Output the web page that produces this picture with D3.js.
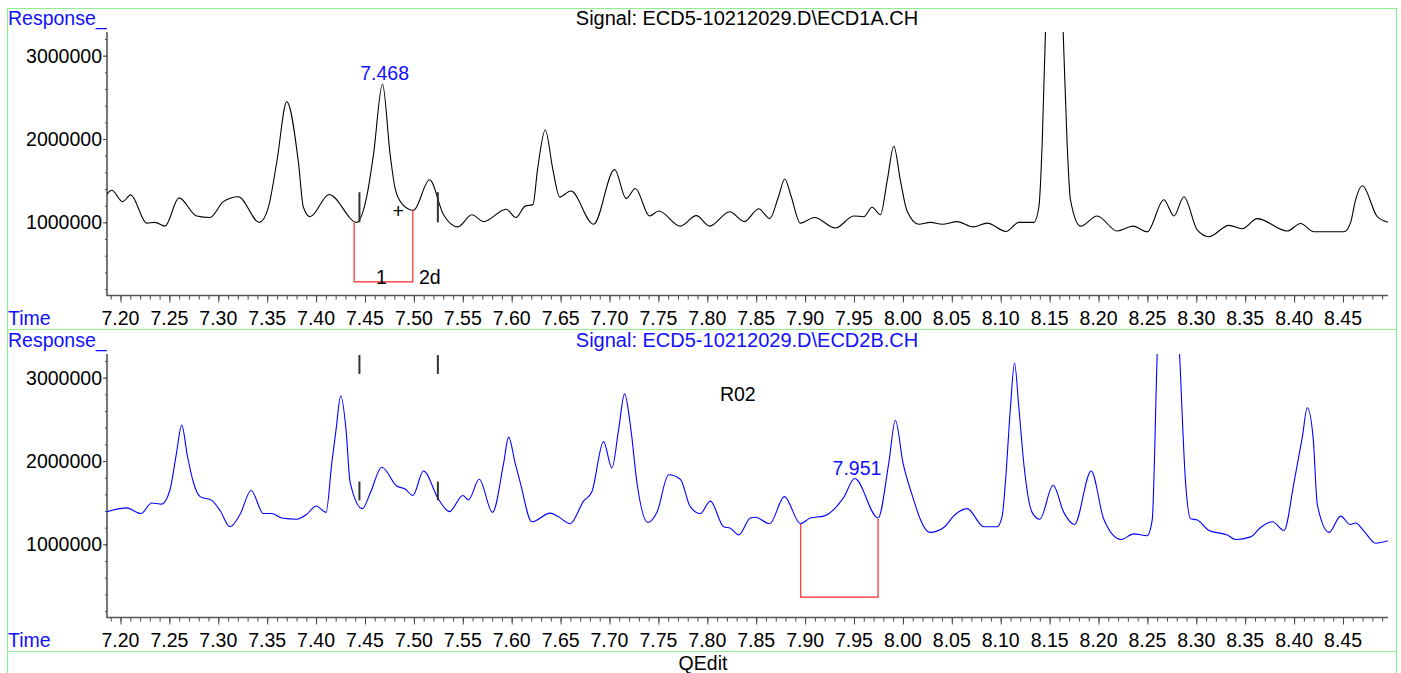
<!DOCTYPE html>
<html lang="en">
<head>
<meta charset="utf-8">
<title>ECD chromatogram</title>
<script src="https://d3js.org/d3.v7.min.js"></script>
<style>
  body { margin: 0; background: #fff; }
  text { font-family: "Liberation Sans", Arial, sans-serif; }
  .frame { stroke: #90ee90; stroke-width: 1.2; fill: none; }
</style>
</head>
<body>
<div id="chart"></div>
<script>
// retention time (min) and response for the two detector channels
const topTime = [7.1862, 7.1910, 7.2022, 7.2104, 7.2268, 7.2353, 7.2455, 7.2598, 7.2779, 7.2915,
  7.3052, 7.3205, 7.3420, 7.3512, 7.3598, 7.3700, 7.3819, 7.3870, 7.3939, 7.4133,
  7.4416, 7.4519, 7.4587, 7.4679, 7.4757, 7.4808, 7.4877, 7.4996, 7.5160, 7.5303,
  7.5449, 7.5593, 7.5712, 7.5944, 7.6043, 7.6138, 7.6217, 7.6264, 7.6343, 7.6421,
  7.6490, 7.6605, 7.6837, 7.7052, 7.7171, 7.7264, 7.7410, 7.7503, 7.7724, 7.7888,
  7.8024, 7.8229, 7.8379, 7.8526, 7.8638, 7.8730, 7.8792, 7.8856, 7.8952, 7.9095,
  7.9310, 7.9497, 7.9600, 7.9685, 7.9770, 7.9839, 7.9907, 7.9975, 8.0043, 8.0162,
  8.0282, 8.0401, 8.0555, 8.0718, 8.0862, 8.1055, 8.1185, 8.1339, 8.1390, 8.1424,
  8.1458, 8.1546, 8.1638, 8.1679, 8.1713, 8.1816, 8.1986, 8.2191, 8.2355, 8.2498,
  8.2668, 8.2771, 8.2873, 8.3009, 8.3129, 8.3333, 8.3470, 8.3623, 8.3930, 8.4066,
  8.4202, 8.4510, 8.4578, 8.4629, 8.4697, 8.4851, 8.4963];
const topResp = [1340000, 1385000, 1249000, 1330000, 991000, 1000000, 955000, 1294000, 1077000, 1059000,
  1249000, 1308000, 1000000, 1181000, 1724000, 2448000, 1724000, 1181000, 1068000, 1335000,
  1000000, 1317000, 1815000, 2661000, 1815000, 1407000, 1226000, 1145000, 1511000, 1091000,
  946000, 1091000, 1009000, 1158000, 1059000, 1195000, 1213000, 1633000, 2109000, 1633000,
  1305000, 1376000, 977000, 1634000, 1285000, 1407000, 1077000, 1136000, 955000, 1081000,
  955000, 1127000, 1009000, 1163000, 1045000, 1317000, 1520000, 1317000, 991000, 1059000,
  932000, 1077000, 1068000, 1181000, 1091000, 1498000, 1914000, 1498000, 1136000, 977000,
  1000000, 977000, 1009000, 946000, 991000, 890000, 1000000, 1000000, 1181000, 1950000,
  3308000, 5500000, 3308000, 1950000, 1272000, 955000, 1077000, 896000, 955000, 887000,
  1272000, 1077000, 1308000, 910000, 828000, 964000, 923000, 1045000, 896000, 986000,
  887000, 887000, 1000000, 1272000, 1439000, 1068000, 1000000];

const botTime = [7.1862, 7.2063, 7.2210, 7.2319, 7.2421, 7.2506, 7.2568, 7.2626, 7.2684, 7.2745,
  7.2813, 7.2933, 7.3018, 7.3120, 7.3223, 7.3335, 7.3461, 7.3546, 7.3649, 7.3802,
  7.3905, 7.4000, 7.4102, 7.4160, 7.4204, 7.4252, 7.4306, 7.4348, 7.4474, 7.4552,
  7.4672, 7.4825, 7.4910, 7.4989, 7.5098, 7.5251, 7.5364, 7.5500, 7.5558, 7.5668,
  7.5804, 7.5917, 7.5968, 7.6036, 7.6087, 7.6206, 7.6394, 7.6479, 7.6598, 7.6735,
  7.6820, 7.6939, 7.7025, 7.7093, 7.7154, 7.7219, 7.7280, 7.7393, 7.7485, 7.7605,
  7.7724, 7.7826, 7.7928, 7.8031, 7.8167, 7.8236, 7.8321, 7.8440, 7.8491, 7.8638,
  7.8788, 7.8952, 7.9054, 7.9190, 7.9395, 7.9507, 7.9746, 7.9855, 7.9923, 8.0002,
  8.0077, 8.0275, 8.0418, 8.0537, 8.0657, 8.0827, 8.0964, 8.1015, 8.1048, 8.1100,
  8.1141, 8.1185, 8.1236, 8.1321, 8.1400, 8.1536, 8.1645, 8.1754, 8.1925, 8.2054,
  8.2232, 8.2361, 8.2498, 8.2549, 8.2600, 8.2713, 8.2829, 8.2890, 8.2941, 8.3010,
  8.3129, 8.3317, 8.3402, 8.3556, 8.3658, 8.3777, 8.3897, 8.3999, 8.4084, 8.4135,
  8.4194, 8.4238, 8.4357, 8.4476, 8.4572, 8.4630, 8.4715, 8.4834, 8.4964];
const botResp = [1393000, 1438000, 1370000, 1497000, 1483000, 1655000, 2061000, 2431000, 2061000, 1745000,
  1573000, 1528000, 1406000, 1212000, 1361000, 1646000, 1370000, 1370000, 1316000, 1302000,
  1361000, 1461000, 1384000, 1971000, 2377000, 2783000, 2377000, 1745000, 1429000, 1610000,
  1926000, 1700000, 1664000, 1587000, 1880000, 1542000, 1393000, 1587000, 1533000, 1781000,
  1384000, 1971000, 2287000, 1971000, 1745000, 1271000, 1375000, 1330000, 1248000, 1519000,
  1632000, 2233000, 1917000, 2377000, 2806000, 2377000, 1745000, 1262000, 1384000, 1835000,
  1781000, 1452000, 1370000, 1519000, 1212000, 1194000, 1113000, 1316000, 1325000, 1248000,
  1573000, 1248000, 1316000, 1339000, 1564000, 1790000, 1316000, 1971000, 2490000, 1971000,
  1655000, 1144000, 1203000, 1361000, 1429000, 1212000, 1212000, 1339000, 1745000, 2648000,
  3176000, 2648000, 1971000, 1384000, 1302000, 1709000, 1384000, 1239000, 1880000, 1302000,
  1059000, 1126000, 1104000, 1293000, 3280000, 6000000, 3280000, 1745000, 1307000, 1293000,
  1167000, 1113000, 1059000, 1090000, 1203000, 1271000, 1167000, 1745000, 2287000, 2639000,
  2287000, 1474000, 1144000, 1339000, 1239000, 1257000, 1158000, 1014000, 1045000];

const timeTicks = ["7.20", "7.25", "7.30", "7.35", "7.40", "7.45", "7.50", "7.55", "7.60", "7.65",
  "7.70", "7.75", "7.80", "7.85", "7.90", "7.95", "8.00", "8.05", "8.10", "8.15",
  "8.20", "8.25", "8.30", "8.35", "8.40", "8.45"];
const respTicks = [1000000, 2000000, 3000000];

const signalNames = ["Signal: ECD5-10212029.D\\ECD1A.CH", "Signal: ECD5-10212029.D\\ECD2B.CH"];

// integration marks: [panel, time, response]
const peakLabels = [[0, 7.468, 2661000, "7.468"], [1, 7.951, 1790000, "7.951"]];
const baselineBoxes = [[0, 7.4389, 7.4989, 1000000, 1145000, 285000], [1, 7.8955, 7.9746, 1248000, 1307000, 368000]];
const windowMarks = [[0, 7.4443, 1000000, 1362000], [0, 7.5245, 1000000, 1362000],
  [1, 7.4443, 3045000, 3271000], [1, 7.5245, 3045000, 3271000],
  [1, 7.4443, 1528000, 1754000], [1, 7.5245, 1528000, 1754000]];

const width = 1401, height = 673;
const blue = "#1010ff";
const fontSize = 19.5;

const svg = d3.select("#chart").append("svg")
  .attr("width", width).attr("height", height);

const x = d3.scaleLinear().domain([7.1862, 8.496]).range([107, 1388]);

const panels = [
  {top: 32, bottom: 295.5, color: "#000", titleColor: "#000", t: topTime, v: topResp},
  {top: 354, bottom: 617.5, color: "#0000ff", titleColor: blue, t: botTime, v: botResp}
];

// green frame
svg.append("line").attr("class", "frame").attr("x1", 7.5).attr("x2", 7.5).attr("y1", 8).attr("y2", height);
svg.append("line").attr("class", "frame").attr("x1", 1396.5).attr("x2", 1396.5).attr("y1", 8).attr("y2", height);
[8.5, 329.5, 651.5].forEach(yy => {
  svg.append("line").attr("class", "frame").attr("x1", 7).attr("x2", 1397).attr("y1", yy).attr("y2", yy);
});

panels.forEach((p, i) => {
  const y = d3.scaleLinear().domain([122600, 3284000]).range([p.bottom, p.top]);
  const g = svg.append("g");

  g.append("clipPath").attr("id", "clip" + i)
    .append("rect").attr("x", 107).attr("y", p.top).attr("width", 1281).attr("height", p.bottom - p.top);

  // x axis: minor ticks every 0.01, labels every 0.05
  const minor = d3.range(719, 850).map(d => d / 100);
  const xAxisMinor = d3.axisBottom(x).tickValues(minor).tickSize(4).tickFormat("");
  const xAxisMajor = d3.axisBottom(x).tickValues(timeTicks.map(Number)).tickSize(7).tickFormat("");
  g.append("g").attr("transform", `translate(0,${p.bottom})`).call(xAxisMinor)
    .call(a => a.select(".domain").remove());
  g.append("g").attr("transform", `translate(0,${p.bottom})`).call(xAxisMajor)
    .call(a => a.select(".domain").remove());
  g.selectAll(".tick line").attr("stroke", "#444");
  g.selectAll("text.xt").data(timeTicks).enter().append("text")
    .attr("x", d => x(+d)).attr("y", p.bottom + 29.5)
    .attr("text-anchor", "middle").attr("font-size", fontSize).text(d => d);

  // y axis
  const yMinor = d3.range(200000, 3300000, 200000);
  g.append("g").attr("transform", "translate(107,0)")
    .call(d3.axisLeft(y).tickValues(yMinor).tickSize(2).tickFormat(""))
    .call(a => a.select(".domain").remove())
    .call(a => a.selectAll("line").attr("stroke", "#444"));
  g.append("g").attr("transform", "translate(107,0)")
    .call(d3.axisLeft(y).tickValues(respTicks).tickSize(4).tickFormat(""))
    .call(a => a.select(".domain").remove())
    .call(a => a.selectAll("line").attr("stroke", "#444"));
  g.selectAll("text.yt").data(respTicks).enter().append("text")
    .attr("x", 102).attr("y", d => y(d)).attr("dy", "0.36em")
    .attr("text-anchor", "end").attr("font-size", fontSize).text(d => d);

  // axis lines
  g.append("line").attr("x1", 107).attr("x2", 107).attr("y1", p.top).attr("y2", p.bottom + 0.5)
    .attr("stroke", "#555").attr("stroke-width", 1.6);
  g.append("line").attr("x1", 106.5).attr("x2", 1388).attr("y1", p.bottom).attr("y2", p.bottom)
    .attr("stroke", "#555").attr("stroke-width", 1.6);

  // labels
  g.append("text").attr("x", 8).attr("y", p.top - 7).attr("fill", blue)
    .attr("font-size", fontSize).text("Response_");
  g.append("text").attr("x", 8).attr("y", p.bottom + 29.5).attr("fill", blue)
    .attr("font-size", fontSize).text("Time");
  g.append("text").attr("x", 747).attr("y", p.top - 7).attr("fill", p.titleColor)
    .attr("text-anchor", "middle").attr("font-size", 20).text(signalNames[i]);

  // trace
  const pts = p.t.map((t, k) => [t, p.v[k]]);
  g.append("path").datum(pts)
    .attr("clip-path", `url(#clip${i})`)
    .attr("fill", "none").attr("stroke", p.color).attr("stroke-width", 1.1)
    .attr("d", d3.line().x(d => x(d[0])).y(d => y(d[1])).curve(d3.curveMonotoneX));

  // baseline boxes
  baselineBoxes.filter(b => b[0] === i).forEach(b => {
    g.append("path").attr("fill", "none").attr("stroke", "#ff2a2a").attr("stroke-width", 1.2)
      .attr("d", `M${x(b[1])},${y(b[3])}V${y(b[5])}H${x(b[2])}V${y(b[4])}`);
  });

  // integration window marks
  windowMarks.filter(m => m[0] === i).forEach(m => {
    g.append("line").attr("x1", x(m[1])).attr("x2", x(m[1]))
      .attr("y1", y(m[2])).attr("y2", y(m[3]))
      .attr("stroke", "#333").attr("stroke-width", 2);
  });

  // peak labels
  peakLabels.filter(l => l[0] === i).forEach(l => {
    g.append("text").attr("x", x(l[1]) + 2).attr("y", y(l[2]) - 4)
      .attr("text-anchor", "middle").attr("fill", blue).attr("font-size", fontSize).text(l[3]);
  });
});

// extra marks on the first channel
const y0 = d3.scaleLinear().domain([122600, 3284000]).range([295.5, 32]);
svg.append("text").attr("x", x(7.4840)).attr("y", y0(1145000) + 8).attr("text-anchor", "middle")
  .attr("font-size", fontSize).text("+");
svg.append("text").attr("x", x(7.4668)).attr("y", y0(285000) + 2).attr("text-anchor", "middle")
  .attr("font-size", fontSize).text("1");
svg.append("text").attr("x", x(7.5000) + 5).attr("y", y0(285000) + 2)
  .attr("font-size", fontSize).text("2d");

const y1 = d3.scaleLinear().domain([122600, 3284000]).range([617.5, 354]);
svg.append("text").attr("x", x(7.8312)).attr("y", y1(2720000)).attr("text-anchor", "middle")
  .attr("font-size", fontSize).text("R02");

svg.append("text").attr("x", 703).attr("y", 670).attr("text-anchor", "middle")
  .attr("font-size", fontSize).text("QEdit");
</script>
</body>
</html>
